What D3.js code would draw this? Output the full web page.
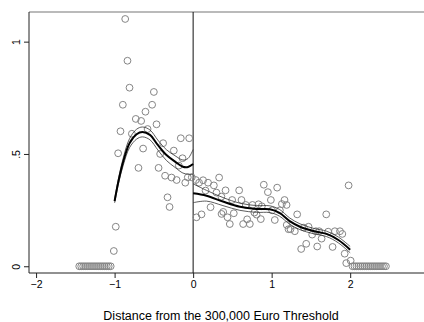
<!DOCTYPE html>
<html>
<head>
<meta charset="utf-8">
<script src="https://cdn.jsdelivr.net/npm/d3@7"></script>
<style>
  body { margin: 0; background: #fff; }
  svg { display: block; font-family: "Liberation Sans", Arial, sans-serif; }
</style>
</head>
<body>
<svg id="chart" width="424" height="322"></svg>
<script>
// binned means, left of threshold
const leftX = [-1.45, -1.425, -1.40, -1.375, -1.35, -1.325, -1.30, -1.275, -1.25, -1.225, -1.20, -1.175, -1.15, -1.125, -1.10, -1.075, -1.05,
  -1.01, -0.985, -0.955, -0.925, -0.895, -0.865, -0.836, -0.81, -0.78, -0.73, -0.696, -0.662, -0.637, -0.607, -0.58, -0.522, -0.50,
  -0.466, -0.44, -0.42, -0.382, -0.357, -0.326, -0.30, -0.275, -0.246, -0.21, -0.182, -0.157, -0.135, -0.10, -0.068, -0.05, -0.017];
const leftY = [0, 0, 0, 0, 0, 0, 0, 0, 0, 0, 0, 0, 0, 0, 0, 0, 0,
  0.068, 0.176, 0.503, 0.601, 0.719, 1.101, 0.915, 0.795, 0.59, 0.656, 0.438, 0.647, 0.524, 0.688, 0.611, 0.719, 0.776,
  0.632, 0.438, 0.50, 0.548, 0.403, 0.307, 0.264, 0.395, 0.515, 0.384, 0.448, 0.570, 0.481, 0.372, 0.396, 0.570, 0.396];

// binned means, right of threshold
const rightX = [0.034, 0.043, 0.076, 0.107, 0.127, 0.158, 0.19, 0.222, 0.264, 0.297, 0.331, 0.36, 0.362, 0.383, 0.413, 0.438,
  0.467, 0.497, 0.518, 0.586, 0.616, 0.637, 0.67, 0.688, 0.722, 0.756, 0.78, 0.808, 0.833, 0.862, 0.875, 0.90, 0.952, 0.99,
  1.006, 1.04, 1.07, 1.105, 1.13, 1.164, 1.19, 1.192, 1.215, 1.24, 1.295, 1.325, 1.376, 1.41, 1.44, 1.47, 1.516, 1.563, 1.58,
  1.605, 1.636, 1.695, 1.72, 1.776, 1.805, 1.87, 1.90, 1.93, 1.95, 1.98, 2.006,
  2.03, 2.055, 2.08, 2.105, 2.13, 2.155, 2.18, 2.205, 2.23, 2.255, 2.28, 2.305, 2.33, 2.355, 2.38, 2.405, 2.43, 2.455];
const rightY = [0.384, 0.218, 0.372, 0.231, 0.383, 0.337, 0.372, 0.263, 0.36, 0.328, 0.395, 0.31, 0.233, 0.242, 0.338, 0.218,
  0.188, 0.295, 0.236, 0.338, 0.295, 0.188, 0.273, 0.209, 0.188, 0.273, 0.239, 0.23, 0.276, 0.21, 0.267, 0.363, 0.33, 0.295,
  0.249, 0.206, 0.35, 0.249, 0.277, 0.295, 0.273, 0.184, 0.165, 0.165, 0.156, 0.231, 0.077, 0.172, 0.10, 0.176, 0.141, 0.156, 0.088,
  0.156, 0.123, 0.231, 0.154, 0.086, 0.156, 0.156, 0.144, 0.056, 0.014, 0.36, 0.025,
  0, 0, 0, 0, 0, 0, 0, 0, 0, 0, 0, 0, 0, 0, 0, 0, 0, 0];

// local polynomial fits with confidence bands
const fitLeftX = [-1.0, -0.95, -0.89, -0.81, -0.72, -0.645, -0.55, -0.45, -0.34, -0.23, -0.13, -0.065, 0.0];
const fitLeftY = [0.29, 0.38, 0.466, 0.548, 0.588, 0.598, 0.585, 0.54, 0.495, 0.466, 0.443, 0.442, 0.455];
const fitLeftLo = [0.282, 0.368, 0.45, 0.528, 0.566, 0.576, 0.563, 0.518, 0.471, 0.44, 0.415, 0.41, 0.41];
const fitLeftHi = [0.298, 0.392, 0.482, 0.568, 0.61, 0.62, 0.607, 0.562, 0.519, 0.492, 0.473, 0.48, 0.52];

const fitRightX = [0.0, 0.17, 0.38, 0.595, 0.808, 0.977, 1.10, 1.23, 1.36, 1.53, 1.70, 1.85, 2.0];
const fitRightY = [0.325, 0.314, 0.288, 0.265, 0.255, 0.254, 0.238, 0.201, 0.176, 0.157, 0.144, 0.117, 0.074];
const fitRightLo = [0.283, 0.29, 0.27, 0.249, 0.24, 0.239, 0.223, 0.187, 0.163, 0.145, 0.132, 0.104, 0.06];
const fitRightHi = [0.367, 0.338, 0.306, 0.281, 0.27, 0.269, 0.253, 0.215, 0.189, 0.169, 0.156, 0.13, 0.088];

const xTicks = [-2, -1, 0, 1, 2];
const yTicks = [0, 0.5, 1];
const yTickLabels = ["0", ".5", "1"];
const xTitle = "Distance from the 300,000 Euro Threshold";

const svg = d3.select("#chart");
const plotL = 29, plotT = 12, plotB = 273, plotR = 424;

const x = d3.scaleLinear().domain([-2.09, 2.94]).range([plotL, plotR]);
const y = d3.scaleLinear().domain([-0.03, 1.132]).range([plotB, plotT]);

// frame
svg.append("line").attr("x1", plotL).attr("x2", plotR + 5).attr("y1", plotT).attr("y2", plotT)
  .attr("stroke", "#777").attr("stroke-width", 1.2);

// axes
const gx = svg.append("g").attr("transform", "translate(0," + plotB + ")")
  .call(d3.axisBottom(x).tickValues(xTicks).tickFormat(d3.format("d")).tickSize(5).tickPadding(3));
gx.select(".domain").attr("stroke", "#222").attr("d", "M" + plotL + ",0H" + (plotR + 5));
gx.selectAll(".tick line").attr("stroke", "#222");
gx.selectAll("text").attr("font-size", 10.5).attr("fill", "#000").attr("font-family", "Liberation Sans, Arial, sans-serif");

const gy = svg.append("g").attr("transform", "translate(" + plotL + ",0)")
  .call(d3.axisLeft(y).tickValues(yTicks).tickFormat((d, i) => yTickLabels[i]).tickSize(5));
gy.select(".domain").attr("stroke", "#222").attr("d", "M0," + plotT + "V" + plotB);
gy.selectAll(".tick line").attr("stroke", "#222");
gy.selectAll("text")
  .attr("x", null).attr("dy", null)
  .attr("font-size", 10.5).attr("fill", "#000").attr("font-family", "Liberation Sans, Arial, sans-serif")
  .attr("text-anchor", "middle")
  .attr("transform", "translate(-9,0) rotate(-90)");

// threshold
svg.append("line").attr("x1", x(0)).attr("x2", x(0)).attr("y1", plotT).attr("y2", plotB)
  .attr("stroke", "#111").attr("stroke-width", 1);

// scatter
const pts = leftX.map((d, i) => [d, leftY[i]]).concat(rightX.map((d, i) => [d, rightY[i]]));
svg.append("g").selectAll("circle").data(pts).join("circle")
  .attr("cx", d => x(d[0])).attr("cy", d => y(d[1])).attr("r", 3.4)
  .attr("fill", "none").attr("stroke", "#858585").attr("stroke-width", 1);

// fits
const line = d3.line().x(d => x(d[0])).y(d => y(d[1])).curve(d3.curveCatmullRom.alpha(0.5));
function drawFit(xs, ys, lo, hi) {
  const mk = arr => xs.map((d, i) => [d, arr[i]]);
  [lo, hi].forEach(a => svg.append("path").attr("d", line(mk(a)))
    .attr("fill", "none").attr("stroke", "#333").attr("stroke-width", 0.8));
  svg.append("path").attr("d", line(mk(ys)))
    .attr("fill", "none").attr("stroke", "#000").attr("stroke-width", 2);
}
drawFit(fitLeftX, fitLeftY, fitLeftLo, fitLeftHi);
drawFit(fitRightX, fitRightY, fitRightLo, fitRightHi);

// title
svg.append("text").attr("x", 221).attr("y", 320).attr("text-anchor", "middle")
  .attr("font-size", 12.5).attr("fill", "#000").text(xTitle);
</script>
</body>
</html>
